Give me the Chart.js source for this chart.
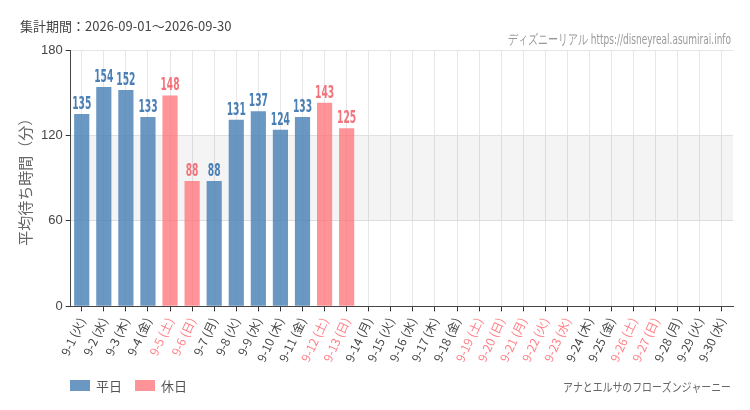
<!DOCTYPE html>
<html>
<head>
<meta charset="utf-8">
<script src="https://cdn.jsdelivr.net/npm/chart.js@4"></script>
<style>
  html, body { margin: 0; padding: 0; background: #fff; }
  #wrap { width: 750px; height: 410px; position: relative; }
</style>
</head>
<body>
<div id="wrap"><canvas id="waitChart"></canvas></div>
<script>
// 9月の日付と曜日
const days = ['9-1 (火)', '9-2 (水)', '9-3 (木)', '9-4 (金)', '9-5 (土)', '9-6 (日)', '9-7 (月)', '9-8 (火)', '9-9 (水)', '9-10 (木)',
    '9-11 (金)', '9-12 (土)', '9-13 (日)', '9-14 (月)', '9-15 (火)', '9-16 (水)', '9-17 (木)', '9-18 (金)', '9-19 (土)', '9-20 (日)',
    '9-21 (月)', '9-22 (火)', '9-23 (水)', '9-24 (木)', '9-25 (金)', '9-26 (土)', '9-27 (日)', '9-28 (月)', '9-29 (火)', '9-30 (水)'];
const holidays = [false, false, false, false, true, true, false, false, false, false,
    false, true, true, false, false, false, false, false, true, true,
    true, true, true, false, false, true, true, false, false, false];
// 平均待ち時間（分）、データなしは null
const waitTimes = [135, 154, 152, 133, 148, 88, 88, 131, 137, 124, 133, 143, 125,
    null, null, null, null, null, null, null, null, null, null, null, null, null, null, null, null, null];
const yTicks = [0, 60, 120, 180];

const weekdayData = waitTimes.map((v, i) => holidays[i] ? null : v);
const holidayData = waitTimes.map((v, i) => holidays[i] ? v : null);

const blue = 'rgba(74, 128, 182, 0.82)';
const pink = 'rgba(255, 112, 118, 0.75)';
const blueText = '#4a7fb5';
const pinkText = '#f2737b';
const narrow = '"DejaVu Sans", sans-serif';

// 横方向に縮めて文字を書く（細身フォントの代わり）
function narrowText(ctx, text, x, y, sx) {
    ctx.save();
    ctx.translate(x, y);
    ctx.scale(sx, 1);
    ctx.fillText(text, 0, 0);
    ctx.restore();
}

// 60〜120分の帯
const bandPlugin = {
    id: 'band',
    beforeDatasetsDraw(chart) {
        const { ctx, chartArea, scales } = chart;
        const top = scales.y.getPixelForValue(120);
        const bottom = scales.y.getPixelForValue(60);
        ctx.save();
        ctx.fillStyle = 'rgba(0,0,0,0.045)';
        ctx.fillRect(chartArea.left, top, chartArea.right - chartArea.left, bottom - top);
        ctx.restore();
    }
};

// 棒の上の数値
const valueLabels = {
    id: 'valueLabels',
    afterDatasetsDraw(chart) {
        const ctx = chart.ctx;
        ctx.save();
        ctx.font = '600 condensed 17px ' + narrow;
        ctx.fontStretch = 'condensed';
        ctx.textAlign = 'center';
        ctx.textBaseline = 'bottom';
        chart.data.datasets.forEach((ds, di) => {
            const meta = chart.getDatasetMeta(di);
            meta.data.forEach((bar, i) => {
                if (ds.data[i] == null) return;
                ctx.fillStyle = di === 0 ? blueText : pinkText;
                narrowText(ctx, String(ds.data[i]), bar.x, bar.y - 1, 0.6);
            });
        });
        ctx.restore();
    }
};

// 見出し・出典・凡例・アトラクション名
const captions = {
    id: 'captions',
    afterDraw(chart) {
        const ctx = chart.ctx;
        ctx.save();
        ctx.textBaseline = 'middle';
        ctx.fillStyle = '#444';
        ctx.font = '13px "Noto Sans CJK JP", sans-serif';
        ctx.textAlign = 'left';
        ctx.fillText('集計期間：2026-09-01～2026-09-30', 20, 26);

        ctx.fillStyle = '#999';
        ctx.textAlign = 'right';
        ctx.font = 'condensed 14px ' + narrow;
        ctx.fontStretch = 'condensed';
        const src = 'ディズニーリアル https://disneyreal.asumirai.info';
        narrowText(ctx, src, 731, 40, 223 / ctx.measureText(src).width);

        ctx.fillStyle = '#666';
        ctx.font = '12px "Noto Sans CJK JP", sans-serif';
        const name = 'アナとエルサのフローズンジャーニー';
        narrowText(ctx, name, 731, 387, 168 / ctx.measureText(name).width);

        // 凡例
        ctx.textAlign = 'left';
        ctx.font = '13px "Noto Sans CJK JP", sans-serif';
        let x = 70;
        chart.data.datasets.forEach(ds => {
            ctx.fillStyle = ds.backgroundColor;
            ctx.fillRect(x, 380, 20, 11);
            ctx.fillStyle = '#555';
            ctx.fillText(ds.label, x + 26, 386);
            x += 26 + ctx.measureText(ds.label).width + 13;
        });
        ctx.restore();
    }
};

new Chart(document.getElementById('waitChart'), {
    type: 'bar',
    data: {
        labels: days,
        datasets: [
            { label: '平日', data: weekdayData, backgroundColor: blue, grouped: false, categoryPercentage: 0.8, barPercentage: 0.86 },
            { label: '休日', data: holidayData, backgroundColor: pink, grouped: false, categoryPercentage: 0.8, barPercentage: 0.86 }
        ]
    },
    options: {
        responsive: true,
        maintainAspectRatio: false,
        animation: false,
        layout: { padding: { left: 12, right: 17, top: 50, bottom: 42 } },
        scales: {
            x: {
                grid: { color: '#e6e6e6', offset: false, tickColor: '#333', tickLength: 5 },
                border: { color: '#444' },
                ticks: {
                    minRotation: 65,
                    maxRotation: 65,
                    autoSkip: false,
                    padding: 4,
                    font: { size: 12, family: '"Noto Sans CJK JP", sans-serif' },
                    color: ctx => holidays[ctx.index] ? '#ff7f86' : '#444'
                }
            },
            y: {
                min: 0,
                max: 180,
                afterBuildTicks: axis => { axis.ticks = yTicks.map(v => ({ value: v })); },
                grid: { color: '#e6e6e6', tickColor: '#333', tickLength: 5 },
                border: { color: '#444' },
                ticks: { color: '#444', font: { size: 13 }, padding: 3 },
                title: {
                    display: true,
                    text: '平均待ち時間（分）',
                    color: '#666',
                    font: { size: 15, family: '"Noto Sans CJK JP", sans-serif' },
                    padding: 4
                }
            }
        },
        plugins: {
            legend: { display: false },
            tooltip: { enabled: false }
        }
    },
    plugins: [bandPlugin, valueLabels, captions]
});
</script>
</body>
</html>
